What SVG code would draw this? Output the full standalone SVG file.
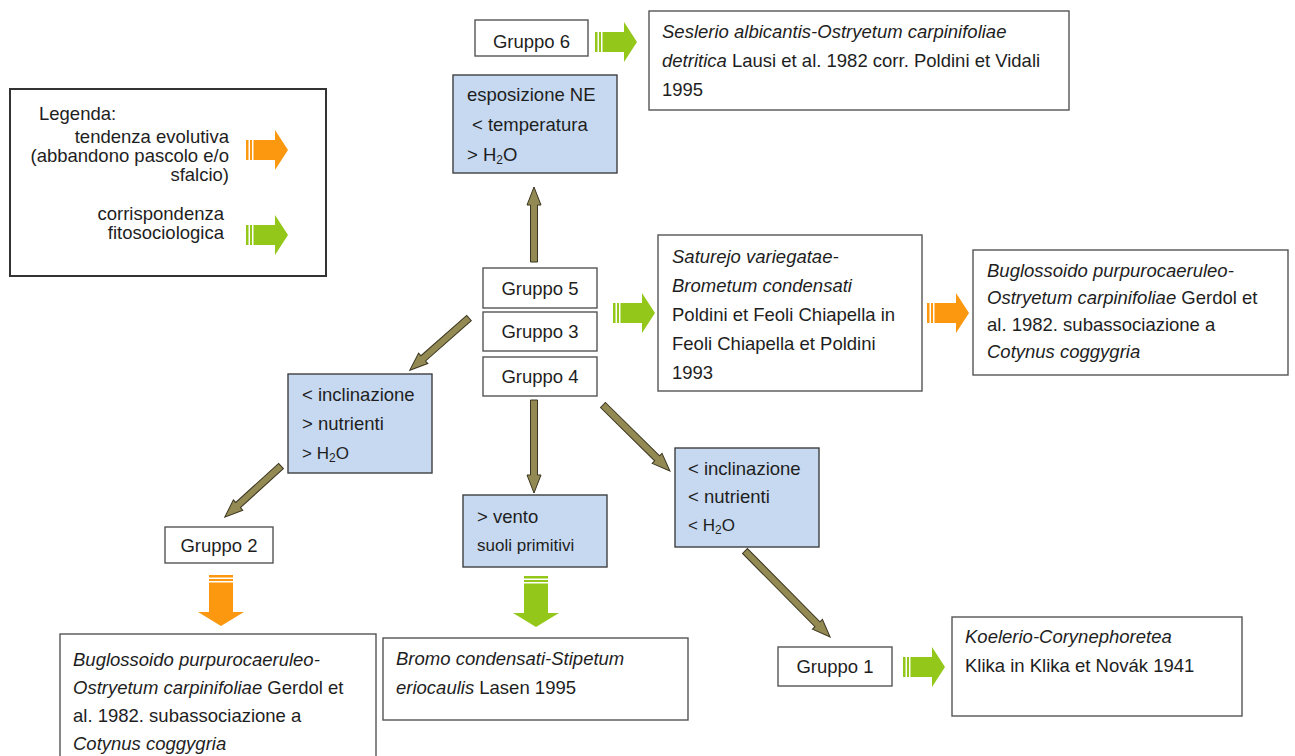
<svg xmlns="http://www.w3.org/2000/svg" xmlns:xlink="http://www.w3.org/1999/xlink" width="1295" height="756" viewBox="0 0 1295 756">
<style>
  text { font-family: "Liberation Sans", Arial, sans-serif; font-size: 18.5px; fill: #1e1e1e; }
  .it { font-style: italic; }
  .c { text-anchor: middle; }
  .e { text-anchor: end; }
  .sm { font-size: 17px; }
  .box { fill: #ffffff; stroke: #555555; stroke-width: 1.4; }
  .blue { fill: #c6d9f1; stroke: #3f3f3f; stroke-width: 1.4; }
  .ol { fill: #938953; stroke: #3a3520; stroke-width: 1; stroke-linejoin: miter; }
  .or { fill: #fb980f; }
  .gr { fill: #93c81b; }
</style>
<defs>
  <g id="rarrow">
    <rect x="0" y="10" width="2.5" height="20"/>
    <rect x="4" y="10" width="2" height="20"/>
    <polygon points="7.5,10 29,10 29,0 42,20 29,40 29,30 7.5,30"/>
  </g>
  <g id="darrow">
    <rect x="11" y="0" width="24" height="2.5"/>
    <rect x="11" y="4" width="24" height="2"/>
    <polygon points="11,7.5 35,7.5 35,37 46,37 23,51 0,37 11,37"/>
  </g>
  <polygon id="olv" points="0,-3.5 -18,-3.5 -18,-7 0,0 -18,7 -18,3.5 0,3.5"/>
</defs>

<!-- Legend -->
<g id="legend">
  <rect x="10" y="89" width="316" height="187" fill="#ffffff" stroke="#333333" stroke-width="2"/>
  <text x="39" y="120">Legenda:</text>
  <text class="e" x="229" y="143">tendenza evolutiva</text>
  <text class="e" x="229" y="162">(abbandono pascolo e/o</text>
  <text class="e" x="229" y="181">sfalcio)</text>
  <text class="e" x="224" y="220">corrispondenza</text>
  <text class="e" x="224" y="239">fitosociologica</text>
  <use xlink:href="#rarrow" class="or" transform="translate(246,130)"/>
  <use xlink:href="#rarrow" class="gr" transform="translate(246,215)"/>
</g>

<!-- Connectors -->
<g id="connectors">
  <!-- olive arrows -->
  <g transform="translate(534,262) rotate(-90)"><polygon class="ol" points="0,-3.5 57,-3.5 57,-7 75,0 57,7 57,3.5 0,3.5"/></g>
  <g transform="translate(469,318) rotate(138.6)"><polygon class="ol" points="0,-3.5 61,-3.5 61,-7 79,0 61,7 61,3.5 0,3.5"/></g>
  <g transform="translate(281,466) rotate(137.7)"><polygon class="ol" points="0,-3.5 58,-3.5 58,-7 76,0 58,7 58,3.5 0,3.5"/></g>
  <g transform="translate(534,400) rotate(90)"><polygon class="ol" points="0,-3.5 75,-3.5 75,-7 93,0 75,7 75,3.5 0,3.5"/></g>
  <g transform="translate(603,405) rotate(44.6)"><polygon class="ol" points="0,-3.5 76,-3.5 76,-7 94,0 76,7 76,3.5 0,3.5"/></g>
  <g transform="translate(745,551) rotate(45.3)"><polygon class="ol" points="0,-3.5 103,-3.5 103,-7 121,0 103,7 103,3.5 0,3.5"/></g>
  <!-- block arrows -->
  <use xlink:href="#rarrow" class="gr" transform="translate(595,22)"/>
  <use xlink:href="#rarrow" class="gr" transform="translate(613,293)"/>
  <use xlink:href="#rarrow" class="or" transform="translate(927,293)"/>
  <use xlink:href="#rarrow" class="gr" transform="translate(903,647)"/>
  <use xlink:href="#darrow" class="or" transform="translate(198,575)"/>
  <use xlink:href="#darrow" class="gr" transform="translate(513,576)"/>
</g>

<g id="gruppo6">
  <rect class="box" x="475" y="20" width="113" height="36"/>
  <text class="c" x="531.5" y="48">Gruppo 6</text>
</g>

<g id="seslerio">
  <rect class="box" x="649" y="11" width="420" height="99"/>
  <text class="it" x="662" y="38">Seslerio albicantis-Ostryetum carpinifoliae</text>
  <text x="662" y="67"><tspan class="it">detritica</tspan> Lausi et al. 1982 corr. Poldini et Vidali</text>
  <text x="662" y="96">1995</text>
</g>

<g id="esposizione">
  <rect class="blue" x="453" y="75" width="164" height="98"/>
  <text x="467" y="101">esposizione NE</text>
  <text x="472" y="131">&lt; temperatura</text>
  <text x="467" y="161">&gt; H<tspan font-size="12" dy="3">2</tspan><tspan dy="-3">O</tspan></text>
</g>

<g id="gruppo5">
  <rect class="box" x="483" y="268" width="114" height="40"/>
  <text class="c" x="540" y="295">Gruppo 5</text>
</g>
<g id="gruppo3">
  <rect class="box" x="483" y="312" width="114" height="39"/>
  <text class="c" x="540" y="338">Gruppo 3</text>
</g>
<g id="gruppo4">
  <rect class="box" x="483" y="357" width="114" height="39"/>
  <text class="c" x="540" y="383">Gruppo 4</text>
</g>

<g id="saturejo">
  <rect class="box" x="658" y="235" width="264" height="156"/>
  <text class="it" x="672" y="263">Saturejo variegatae-</text>
  <text class="it" x="672" y="292">Brometum condensati</text>
  <text x="672" y="321">Poldini et Feoli Chiapella in</text>
  <text x="672" y="350">Feoli Chiapella et Poldini</text>
  <text x="672" y="379">1993</text>
</g>

<g id="buglossoido-right">
  <rect class="box" x="973" y="250" width="315" height="125"/>
  <text class="it" x="987" y="277">Buglossoido purpurocaeruleo-</text>
  <text x="987" y="304"><tspan class="it">Ostryetum carpinifoliae</tspan> Gerdol et</text>
  <text x="987" y="331">al. 1982. subassociazione a</text>
  <text class="it" x="987" y="358">Cotynus coggygria</text>
</g>

<g id="blue-left">
  <rect class="blue" x="288" y="374" width="144" height="99"/>
  <text x="302" y="401">&lt; inclinazione</text>
  <text x="302" y="430">&gt; nutrienti</text>
  <text class="sm" x="302" y="459">&gt; H<tspan font-size="12" dy="3">2</tspan><tspan dy="-3">O</tspan></text>
</g>

<g id="blue-right">
  <rect class="blue" x="675" y="448" width="144" height="99"/>
  <text x="688" y="475">&lt; inclinazione</text>
  <text x="688" y="503">&lt; nutrienti</text>
  <text class="sm" x="688" y="531">&lt; H<tspan font-size="12" dy="3">2</tspan><tspan dy="-3">O</tspan></text>
</g>

<g id="vento">
  <rect class="blue" x="463" y="495" width="144" height="72"/>
  <text x="477" y="523">&gt; vento</text>
  <text class="sm" x="477" y="551">suoli primitivi</text>
</g>

<g id="gruppo2">
  <rect class="box" x="165" y="527" width="108" height="36"/>
  <text class="c" x="219" y="552">Gruppo 2</text>
</g>

<g id="buglossoido-left">
  <rect class="box" x="60" y="634" width="316" height="130"/>
  <text class="it" x="73" y="666">Buglossoido purpurocaeruleo-</text>
  <text x="73" y="694"><tspan class="it">Ostryetum carpinifoliae</tspan> Gerdol et</text>
  <text x="73" y="722">al. 1982. subassociazione a</text>
  <text class="it" x="73" y="750">Cotynus coggygria</text>
</g>

<g id="bromo">
  <rect class="box" x="383" y="638" width="305" height="82"/>
  <text class="it" x="396" y="665">Bromo condensati-Stipetum</text>
  <text x="396" y="694"><tspan class="it">eriocaulis</tspan> Lasen 1995</text>
</g>

<g id="gruppo1">
  <rect class="box" x="778" y="647" width="114" height="39"/>
  <text class="c" x="835" y="673">Gruppo 1</text>
</g>

<g id="koelerio">
  <rect class="box" x="952" y="617" width="290" height="99"/>
  <text class="it" x="965" y="643">Koelerio-Corynephoretea</text>
  <text x="965" y="672">Klika in Klika et Novák 1941</text>
</g>
</svg>
